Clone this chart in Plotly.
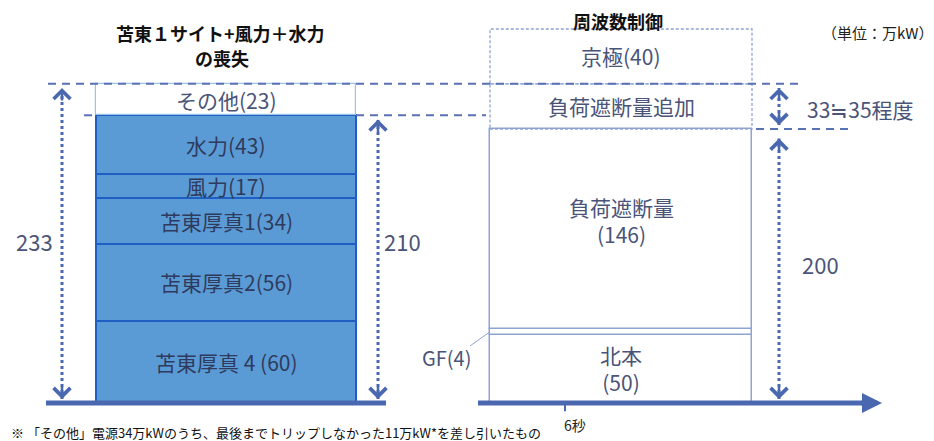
import numpy as np
import plotly.graph_objects as go

# left stack: lost generation (万kW), bottom to top
left_labels = ["苫東厚真 4 (60)", "苫東厚真2(56)", "苫東厚真1(34)", "風力(17)", "水力(43)", "その他(23)"]
left_values = [60, 56, 34, 17, 43, 23]

# right stack: frequency control, bottom to top
right_labels = ["北本<br>(50)", "", "負荷遮断量<br>(146)", "負荷遮断量追加", "京極(40)"]
right_values = [50, 4, 146, 33, 40]
right_dashed = [False, False, False, True, True]

W, H = 934, 441
OFF = 8            # default page margin around the plot div
BASE_PX = 403
PX_PER_UNIT = 1.37

LX, LW = 226, 260
RX, RW = 621, 262

FONT = "Noto Sans CJK JP"
AXIS_C = "#4a68b0"
TXT = "#4a5478"


def val(p):
    return (BASE_PX - p) / PX_PER_UNIT


def paper(p):
    return 1 - (p - OFF) / (H - OFF)


left_base = np.concatenate([[0], np.cumsum(left_values)[:-1]])
right_base = np.concatenate([[0], np.cumsum(right_values)[:-1]])
left_total = int(np.sum(left_values))
left_main = int(np.sum(left_values[:-1]))
right_main = int(np.sum(right_values[:3]))
right_extra_top = right_main + right_values[3]

fig = go.Figure()

# left bar
fill = ["#5b9bd5"] * 5 + ["#ffffff"]
edge = ["#1f5fc4"] * 5 + ["#9dc3e6"]
fig.add_trace(go.Bar(
    x=[LX] * len(left_values), y=left_values, base=left_base, width=LW,
    marker=dict(color=fill, line=dict(color=edge, width=[2] * 5 + [1.2])),
    hoverinfo="skip", showlegend=False,
))

# right bar (solid part)
solid = [i for i, d in enumerate(right_dashed) if not d]
fig.add_trace(go.Bar(
    x=[RX] * len(solid), y=[right_values[i] for i in solid],
    base=[right_base[i] for i in solid], width=RW,
    marker=dict(color="#ffffff", line=dict(color="#8fa3d3", width=1.5)),
    hoverinfo="skip", showlegend=False,
))

# right bar (dashed boxes)
for i, d in enumerate(right_dashed):
    if not d:
        continue
    b, t = right_base[i], right_base[i] + right_values[i]
    x0, x1 = RX - RW / 2, RX + RW / 2
    fig.add_trace(go.Scatter(
        x=[x0, x1, x1, x0, x0], y=[b, b, t, t, b], mode="lines",
        line=dict(color="#8fa3d3", width=1.3, dash="3px,2px"),
        hoverinfo="skip", showlegend=False,
    ))

# dashed reference lines
dash_style = dict(color="#5a72b5", width=2, dash="8px,6px")
fig.add_trace(go.Scatter(x=[48, 803], y=[left_total, left_total], mode="lines",
                         line=dash_style, hoverinfo="skip", showlegend=False))
fig.add_trace(go.Scatter(x=[84, LX - LW / 2, None, LX + LW / 2, 486],
                         y=[left_main, left_main, None, left_main, left_main], mode="lines",
                         line=dash_style, hoverinfo="skip", showlegend=False))
fig.add_trace(go.Scatter(x=[RX + RW / 2 + 4, 848], y=[right_main, right_main], mode="lines",
                         line=dash_style, hoverinfo="skip", showlegend=False))

# dotted dimension arrows
arrows = [(62, 0, left_total), (378, 0, left_main), (779, 0, right_main - 4), (779, right_main, right_extra_top)]
annotations = []
for ax_x, y0, y1 in arrows:
    fig.add_trace(go.Scatter(x=[ax_x, ax_x], y=[y0 + 3, y1 - 3], mode="lines",
                             line=dict(color=AXIS_C, width=3, dash="dot"),
                             hoverinfo="skip", showlegend=False))
    for tip, off in [(y1, 14), (y0, -14)]:
        annotations.append(dict(x=ax_x, y=tip - (3 if off > 0 else -3), ax=0, ay=off, xref="x", yref="y",
                                text="", showarrow=True, arrowhead=4, arrowsize=1.3,
                                arrowwidth=2.5, arrowcolor=AXIS_C))

# base axes
fig.add_trace(go.Scatter(x=[46, 386], y=[0, 0], mode="lines",
                         line=dict(color=AXIS_C, width=5), hoverinfo="skip", showlegend=False))
fig.add_trace(go.Scatter(x=[478, 866], y=[0, 0], mode="lines",
                         line=dict(color=AXIS_C, width=5), hoverinfo="skip", showlegend=False))
annotations.append(dict(x=882, y=0, ax=860, ay=0, axref="x", ayref="y", xref="x", yref="y",
                        text="", showarrow=True, arrowhead=2, arrowsize=0.8,
                        arrowwidth=5, arrowcolor=AXIS_C))
fig.add_trace(go.Scatter(x=[565, 565], y=[0, -6], mode="lines",
                         line=dict(color=AXIS_C, width=2), hoverinfo="skip", showlegend=False))

# GF leader line
fig.add_trace(go.Scatter(x=[470, RX - RW / 2], y=[val(346), right_base[1] + right_values[1] / 2], mode="lines",
                         line=dict(color="#8fa3d3", width=1), hoverinfo="skip", showlegend=False))

# segment labels
for lab, b, v in zip(left_labels, left_base, left_values):
    annotations.append(dict(x=LX, y=b + v / 2, xref="x", yref="y", text=lab, showarrow=False,
                            font=dict(size=21, color="#2e3b5e" if v != left_values[-1] else TXT)))
for lab, b, v in zip(right_labels, right_base, right_values):
    if lab:
        annotations.append(dict(x=RX, y=b + v / 2, xref="x", yref="y", text=lab, showarrow=False,
                                yshift=9 if v == right_values[2] else 0,
                                font=dict(size=21, color=TXT)))

annotations += [
    dict(x=446, y=val(357), xref="x", yref="y", text="GF(4)", showarrow=False, font=dict(size=20, color=TXT)),
    dict(x=34, y=val(241), xref="x", yref="y", text=str(left_total), showarrow=False, font=dict(size=22, color=TXT)),
    dict(x=402, y=val(241), xref="x", yref="y", text=str(left_main), showarrow=False, font=dict(size=22, color=TXT)),
    dict(x=820, y=val(264), xref="x", yref="y", text=str(right_main), showarrow=False, font=dict(size=22, color=TXT)),
    dict(x=860, y=val(109), xref="x", yref="y", text="33≒35程度",
         showarrow=False, font=dict(size=21, color=TXT)),
    dict(x=575, y=val(425), xref="x", yref="y", text="6秒", showarrow=False, font=dict(size=14, color="#222")),
    dict(x=220, y=paper(33), xref="x", yref="paper", yanchor="middle",
         text="<b>苫東１サイト+風力＋水力</b>",
         showarrow=False, font=dict(size=18, color="#111")),
    dict(x=222, y=paper(58), xref="x", yref="paper", yanchor="middle",
         text="<b>の喪失</b>",
         showarrow=False, font=dict(size=18, color="#111")),
    dict(x=618, y=paper(21), xref="x", yref="paper", yanchor="middle", text="<b>周波数制御</b>",
         showarrow=False, font=dict(size=18, color="#111")),
    dict(x=877, y=paper(33), xref="x", yref="paper", yanchor="middle", text="（単位：万kW）",
         showarrow=False, font=dict(size=15, color="#222")),
    dict(x=OFF + 1, y=paper(432), xref="x", yref="paper", xanchor="left", yanchor="middle",
         text="※ 「その他」電源34万kWのうち、最後までトリップしなかった11万kW*を差し引いたもの",
         showarrow=False, font=dict(size=13, color="#111")),
]

fig.update_layout(
    width=W - OFF, height=H - OFF, margin=dict(l=0, r=0, t=0, b=0),
    plot_bgcolor="white", paper_bgcolor="white",
    barmode="overlay", bargap=0,
    font=dict(family=FONT),
    xaxis=dict(range=[OFF, W], visible=False, fixedrange=True),
    yaxis=dict(range=[val(H), val(OFF)], visible=False, fixedrange=True),
    annotations=annotations,
    showlegend=False,
)

fig.write_html("out.html")
